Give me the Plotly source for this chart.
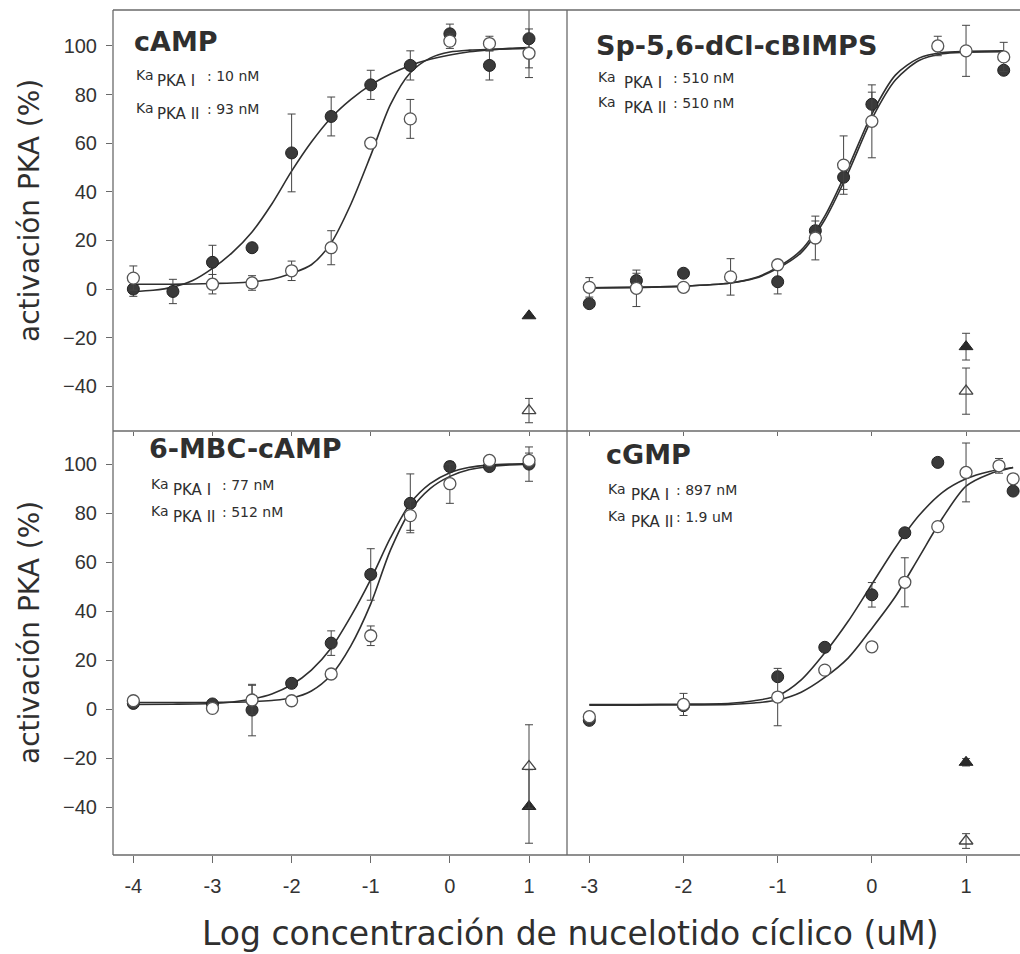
import plotly.graph_objects as go

# ---------------- data ----------------
# cAMP (top-left)
camp_I_x = [-4, -3.5, -3, -2.5, -2, -1.5, -1, -0.5, 0, 0.5, 1]
camp_I_y = [0, -1, 11, 17, 56, 71, 84, 92, 105, 92, 103]
camp_I_err = [3, 5, 7, 0, 16, 8, 6, 6, 4, 6, 12]
camp_II_x = [-4, -3, -2.5, -2, -1.5, -1, -0.5, 0, 0.5, 1]
camp_II_y = [4.5, 2, 2.5, 7.5, 17, 60, 70, 102, 101, 97]
camp_II_err = [5, 4, 3, 4, 7, 0, 8, 3, 3, 10]
camp_tri_I = [-11]
camp_tri_I_err = [0]
camp_tri_II = [-50]
camp_tri_II_err = [5]
camp_fit_x = [-4, -3.75, -3.5, -3.25, -3, -2.75, -2.5, -2.25, -2, -1.75, -1.5,
              -1.25, -1, -0.75, -0.5, -0.25, 0, 0.25, 0.5, 0.75, 1]
camp_fit_I = [-1, -0.5, 0.8, 3.5, 8.5, 15, 23.5, 35, 48.5, 60.5, 70.5,
              78, 84, 88.5, 92, 94.5, 96.3, 97.6, 98.4, 99, 99.4]
camp_fit_II = [2, 2, 2, 2.1, 2.3, 2.5, 3, 4, 6.5, 10, 19,
               35, 55, 76, 89, 95, 97.5, 98.3, 98.6, 98.8, 99]

# Sp-5,6-dCl-cBIMPS (top-right)
sp_I_x = [-3, -2.5, -2, -1, -0.6, -0.3, 0, 1.4]
sp_I_y = [-6, 3.5, 6.5, 3, 24, 46, 76, 90]
sp_I_err = [0, 3, 0, 5, 4, 5, 5, 0]
sp_II_x = [-3, -2.5, -2, -1.5, -1, -0.6, -0.3, 0, 0.7, 1, 1.4]
sp_II_y = [0.7, 0.3, 0.7, 5, 10, 21, 51, 69, 100, 98, 95.5]
sp_II_err = [4, 7.5, 0, 7.5, 0, 9, 12, 15, 4, 10.5, 6]
sp_tri_I = [-23.7]
sp_tri_I_err = [5.5]
sp_tri_II = [-42]
sp_tri_II_err = [9.5]
sp_fit_x = [-3, -2.5, -2, -1.5, -1.25, -1, -0.75, -0.5, -0.25, 0, 0.25, 0.5, 0.75, 1, 1.4]
sp_fit_I = [0.5, 0.7, 1.2, 2.5, 4.5, 9, 16, 30, 50, 72, 88, 95, 97.3, 97.8, 98]
sp_fit_II = [0.5, 0.7, 1.2, 2.5, 4.3, 8.5, 15, 28.5, 48, 70, 86, 94, 96.8, 97.4, 97.6]

# 6-MBC-cAMP (bottom-left)
mbc_x = [-4, -3, -2.5, -2, -1.5, -1, -0.5, 0, 0.5, 1]
mbc_I_y = [2.4, 2.2, -0.3, 10.6, 27, 55, 84, 99, 99, 100]
mbc_I_err = [0, 0, 10.5, 0, 5, 10.5, 12, 2, 0, 7]
mbc_II_y = [3.5, 0.4, 3.8, 3.5, 14.4, 30, 79, 92, 101.5, 101.5]
mbc_II_err = [0, 0, 6, 0, 0, 4, 6, 8, 0, 3]
mbc_tri_I = [-39.6]
mbc_tri_I_err = [15]
mbc_tri_II = [-23.3]
mbc_tri_II_err = [17]
mbc_fit_x = [-4, -3.5, -3, -2.75, -2.5, -2.25, -2, -1.75, -1.5, -1.25, -1,
             -0.75, -0.5, -0.25, 0, 0.25, 0.5, 0.75, 1]
mbc_fit_I = [2, 2.1, 2.4, 3, 4.2, 6.3, 10, 16, 25, 38, 53,
             70, 84, 92, 96.5, 98.7, 99.6, 100, 100.2]
mbc_fit_II = [2.8, 2.8, 2.8, 2.9, 3.1, 3.6, 4.6, 7.5, 14, 26, 43,
              65, 81, 90, 95, 97.8, 99, 99.7, 100]

# cGMP (bottom-right)
cgmp_I_x = [-3, -2, -1, -0.5, 0, 0.35, 0.7, 1.5]
cgmp_I_y = [-4.5, 1.5, 13.3, 25.3, 46.7, 72, 100.7, 89]
cgmp_I_err = [0, 0, 0, 0, 5, 0, 0, 0]
cgmp_II_x = [-3, -2, -1, -0.5, 0, 0.35, 0.7, 1, 1.35, 1.5]
cgmp_II_y = [-3, 2, 5, 16, 25.5, 51.8, 74.5, 96.6, 99.3, 94]
cgmp_II_err = [0, 4.5, 11.7, 0, 0, 10, 0, 12, 3, 0]
cgmp_tri_I = [-21.6]
cgmp_tri_I_err = [1.5]
cgmp_tri_II = [-53.7]
cgmp_tri_II_err = [3]
cgmp_fit_x = [-3, -2.5, -2, -1.5, -1.25, -1, -0.75, -0.5, -0.25, 0, 0.25, 0.5, 0.75, 1, 1.25, 1.5]
cgmp_fit_I = [2, 2, 2.1, 2.5, 3.5, 5.5, 12, 23, 36, 51, 66, 79, 88.5, 94, 97, 98.6]
cgmp_fit_II = [1.7, 1.7, 1.8, 2, 2.6, 3.8, 7, 13, 21, 33, 46, 62, 78, 91, 96, 98.6]

tri_x = [1]

panel_titles = ["cAMP", "Sp-5,6-dCl-cBIMPS", "6-MBC-cAMP", "cGMP"]
ka_I = ["10 nM", "510 nM", "77 nM", "897 nM"]
ka_II = ["93 nM", "510 nM", "512 nM", "1.9 uM"]

left_ticks = [-4, -3, -2, -1, 0, 1]
right_ticks = [-3, -2, -1, 0, 1]
y_ticks = [-40, -20, 0, 20, 40, 60, 80, 100]

y_title = "activación PKA (%)"
x_title = "Log concentración de nucelotido cíclico (uM)"

# ---------------- layout helpers ----------------
W, H = 1020, 954
def fx(p):
    return p / W
def fy(p):
    return 1 - p / H

INK = "#2f2f2f"
FRAME = "#6a6a6a"
FONT = "DejaVu Sans"

fig = go.Figure()

def add_panel(xa, ya, fit_x, fit_I, fit_II, Ix, Iy, Ierr, IIx, IIy, IIerr,
              tI, tIe, tII, tIIe):
    for fy_ in (fit_I, fit_II):
        fig.add_trace(go.Scatter(x=fit_x, y=fy_, mode="lines", xaxis=xa, yaxis=ya,
                                 line=dict(color=INK, width=1.6, shape="spline", smoothing=0.8),
                                 hoverinfo="skip", showlegend=False))
    err_style = dict(type="data", thickness=1, width=4, color="#444")
    fig.add_trace(go.Scatter(x=Ix, y=Iy, mode="markers", xaxis=xa, yaxis=ya,
                             error_y=dict(array=Ierr, **err_style),
                             marker=dict(symbol="circle", size=12, color="#3a3a3a",
                                         line=dict(color="#222", width=1)),
                             showlegend=False))
    fig.add_trace(go.Scatter(x=IIx, y=IIy, mode="markers", xaxis=xa, yaxis=ya,
                             error_y=dict(array=IIerr, **err_style),
                             marker=dict(symbol="circle", size=12, color="white",
                                         line=dict(color="#555", width=1.3)),
                             showlegend=False))
    fig.add_trace(go.Scatter(x=tri_x, y=tI, mode="markers", xaxis=xa, yaxis=ya,
                             error_y=dict(array=tIe, **err_style),
                             marker=dict(symbol="triangle-up", size=12, color="#2a2a2a",
                                         line=dict(color="#222", width=1)),
                             showlegend=False))
    fig.add_trace(go.Scatter(x=tri_x, y=tII, mode="markers", xaxis=xa, yaxis=ya,
                             error_y=dict(array=tIIe, **err_style),
                             marker=dict(symbol="triangle-up-open", size=12, color="#444",
                                         line=dict(width=1.3)),
                             showlegend=False))

add_panel("x", "y", camp_fit_x, camp_fit_I, camp_fit_II, camp_I_x, camp_I_y, camp_I_err,
          camp_II_x, camp_II_y, camp_II_err, camp_tri_I, camp_tri_I_err, camp_tri_II, camp_tri_II_err)
add_panel("x2", "y2", sp_fit_x, sp_fit_I, sp_fit_II, sp_I_x, sp_I_y, sp_I_err,
          sp_II_x, sp_II_y, sp_II_err, sp_tri_I, sp_tri_I_err, sp_tri_II, sp_tri_II_err)
add_panel("x3", "y3", mbc_fit_x, mbc_fit_I, mbc_fit_II, mbc_x, mbc_I_y, mbc_I_err,
          mbc_x, mbc_II_y, mbc_II_err, mbc_tri_I, mbc_tri_I_err, mbc_tri_II, mbc_tri_II_err)
add_panel("x4", "y4", cgmp_fit_x, cgmp_fit_I, cgmp_fit_II, cgmp_I_x, cgmp_I_y, cgmp_I_err,
          cgmp_II_x, cgmp_II_y, cgmp_II_err, cgmp_tri_I, cgmp_tri_I_err, cgmp_tri_II, cgmp_tri_II_err)

tickfont = dict(family="Liberation Sans, Arial", size=20, color="#333")
base_x = dict(showgrid=False, zeroline=False, showline=False, ticks="outside",
              tickcolor=FRAME, tickwidth=1, tickfont=tickfont, fixedrange=True)
base_y = dict(showgrid=False, zeroline=False, showline=False, tickfont=tickfont,
              tickcolor=FRAME, tickwidth=1, fixedrange=True)

dom_xl = [fx(113), fx(567)]
dom_xr = [fx(567), 1.0]
dom_yt = [fy(431), fy(10)]
dom_yb = [fy(855), fy(431)]
rng_xl = [-4.257, 1.48]
rng_xr = [-3.237, 1.573]
rng_yt = [-58.4, 114.8]
rng_yb = [-59.4, 113.5]

fig.update_layout(
    xaxis=dict(base_x, domain=dom_xl, range=rng_xl, anchor="y", tickvals=left_ticks,
               showticklabels=False, ticklen=4),
    yaxis=dict(base_y, domain=dom_yt, range=rng_yt, anchor="x", tickvals=y_ticks,
               ticks="outside", ticklen=6, ticklabelstandoff=5),
    xaxis2=dict(base_x, domain=dom_xr, range=rng_xr, anchor="y2", tickvals=right_ticks,
                showticklabels=False, ticklen=4),
    yaxis2=dict(base_y, domain=dom_yt, range=rng_yt, anchor="x2", tickvals=y_ticks,
                ticks="", showticklabels=False),
    xaxis3=dict(base_x, domain=dom_xl, range=rng_xl, anchor="y3", tickvals=left_ticks,
                ticktext=[str(v) for v in left_ticks], ticklen=7, ticklabelstandoff=6),
    yaxis3=dict(base_y, domain=dom_yb, range=rng_yb, anchor="x3", tickvals=y_ticks,
                ticks="outside", ticklen=6, ticklabelstandoff=5),
    xaxis4=dict(base_x, domain=dom_xr, range=rng_xr, anchor="y4", tickvals=right_ticks,
                ticktext=[str(v) for v in right_ticks], ticklen=7, ticklabelstandoff=6),
    yaxis4=dict(base_y, domain=dom_yb, range=rng_yb, anchor="x4", tickvals=y_ticks,
                ticks="", showticklabels=False),
)

# frame lines
shapes = []
for yp in (10, 431, 855):
    shapes.append(dict(type="line", xref="paper", yref="paper", x0=fx(113), x1=1.0,
                       y0=fy(yp), y1=fy(yp), line=dict(color=FRAME, width=1.3)))
for xp in (113, 567):
    shapes.append(dict(type="line", xref="paper", yref="paper", x0=fx(xp), x1=fx(xp),
                       y0=fy(855), y1=fy(10), line=dict(color=FRAME, width=1.3)))

ann = []
def text(xp, yp, s, size, bold=False, anchor="left", angle=0, family=FONT):
    ann.append(dict(xref="paper", yref="paper", x=fx(xp), y=fy(yp), text=s,
                    showarrow=False, xanchor=anchor, yanchor="middle", textangle=angle,
                    font=dict(family=family, size=size, color=INK,
                              weight="bold" if bold else "normal"),
                    borderpad=0))

# panel titles and Ka lines: (title x, title y, Ka x, line1 y, line2 y, sub dx, val dx)
panel_pos = [
    (133, 41, 135, 75, 108, 21, 71),
    (595, 46, 597, 77, 102, 26, 75),
    (148, 449, 150, 484, 511, 22, 71),
    (605, 455, 607, 489, 516, 23, 68),
]
for i, (tx, ty, kx, l1, l2, sdx, vdx) in enumerate(panel_pos):
    text(tx, ty, panel_titles[i], 27, bold=True)
    for ly, sub, val in ((l1, "PKA I", ka_I[i]), (l2, "PKA II", ka_II[i])):
        text(kx, ly, "Ka", 14)
        text(kx + sdx, ly + 6, sub, 15)
        text(kx + vdx, ly + 1, ": " + val, 14)

text(29, 211, y_title, 28, anchor="center", angle=-90)
text(29, 633, y_title, 28, anchor="center", angle=-90)
text(570, 933, x_title, 33, anchor="center")

fig.update_layout(
    width=W, height=H, autosize=False,
    margin=dict(l=0, r=0, t=0, b=0),
    paper_bgcolor="white", plot_bgcolor="rgba(0,0,0,0)",
    shapes=shapes, annotations=ann, showlegend=False,
)

fig.write_html("out.html")
